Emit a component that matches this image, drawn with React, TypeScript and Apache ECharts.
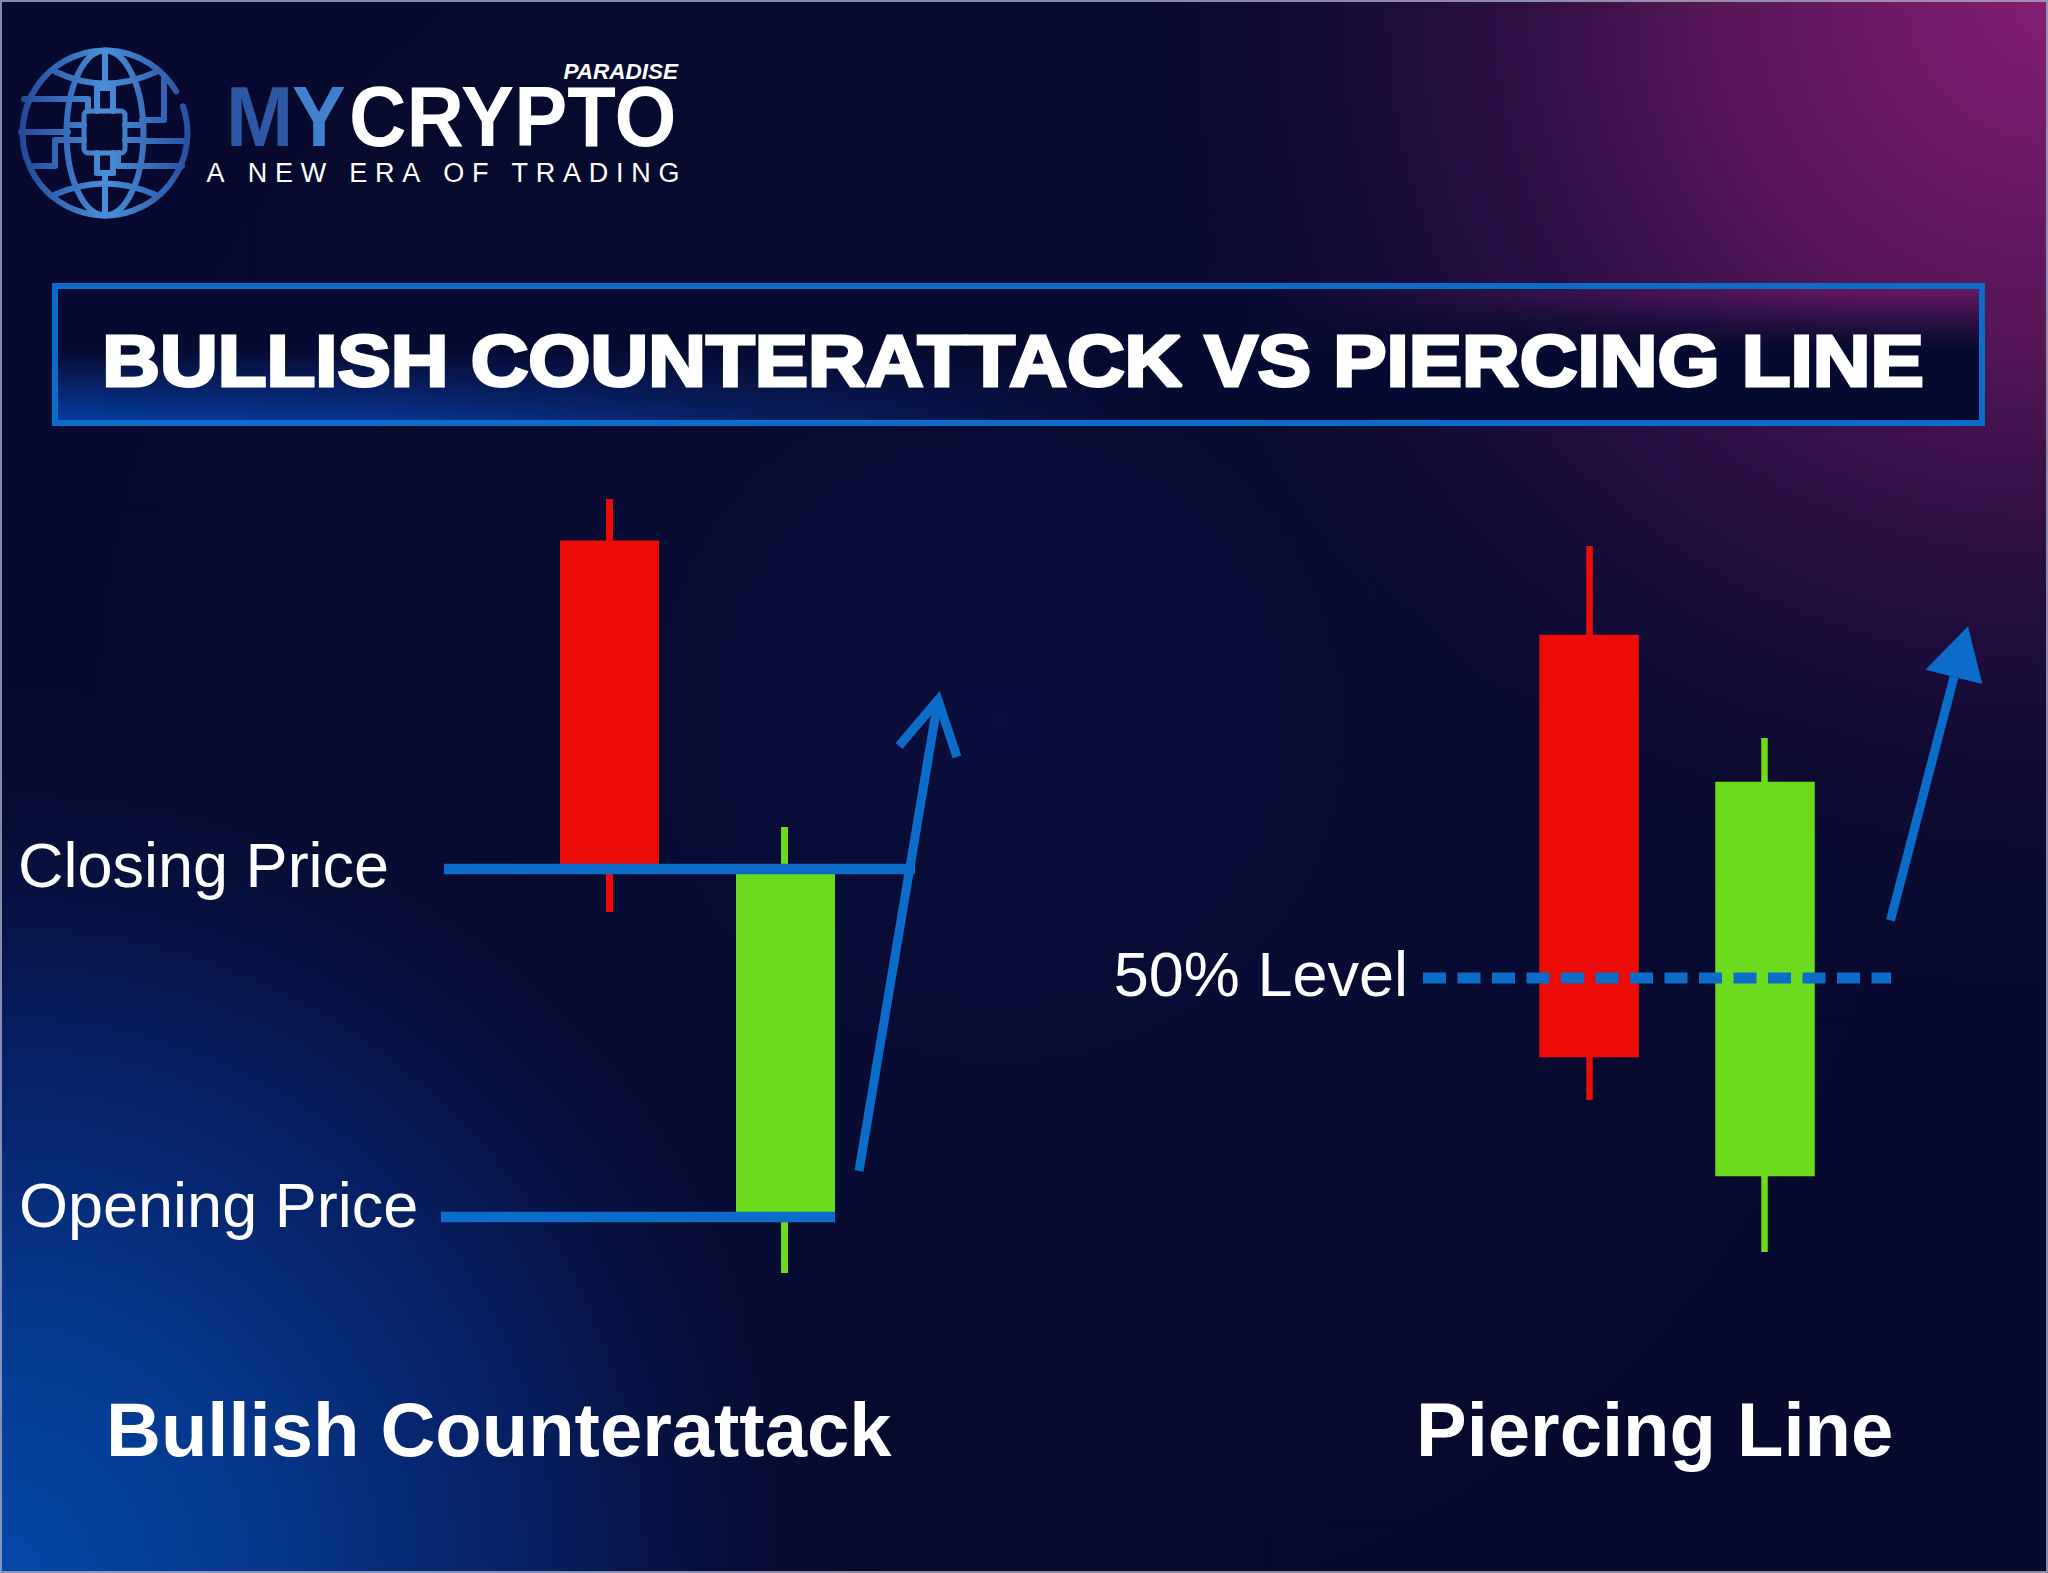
import React, { useEffect, useRef } from "react";
import * as echarts from "echarts";

const W = 2048;
const H = 1573;

// ---------- data ----------
// candle values: [open, close, lowest, highest]
const counterattackDays = ["Bearish day", "Bullish day"];
const counterattackCandles = [
  [85.6, 53.1, 48.8, 90.1],
  [18.3, 53.1, 12.7, 57.3],
];
const piercingDays = ["Bearish day", "Bullish day"];
const piercingCandles = [
  [76.2, 34.6, 30.0, 85.4],
  [22.7, 61.5, 14.8, 66.2],
];
const fiftyPercentLevel = 42.2;
const priceRange = [0, 100];

// annotation extents on the overlay axis (x units, price)
const closingLineX = [444, 915];
const openingLineX = [441, 835];
const levelLineX = [1423, 1891];
const counterArrowShaft = [[859, 22.9], [938, 70.0]];
const counterArrowWings = [[899, 65.4], [938, 70.0], [957, 64.3]];
const piercingArrowShaft = [[1890.5, 47.97], [1954, 72.3]];
const piercingArrowHead = [[1968, 77.38], [1925.5, 73.03], [1982.3, 71.6]];

// texts
const titleText = "BULLISH COUNTERATTACK VS PIERCING LINE";
const tagline = "A NEW ERA OF TRADING";

const BLUE = "#0b6cc9";
const RED = "#ec0b06";
const GREEN = "#6cdb1e";
const NAVY = "#070a30";
const FONT = '"Liberation Sans", Arial, sans-serif';

function globeGrad() {
  return new echarts.graphic.LinearGradient(
    19, 0, 191, 0,
    [
      { offset: 0, color: "#24479a" },
      { offset: 0.5, color: "#4a8ed8" },
      { offset: 1, color: "#284f9f" },
    ],
    true
  );
}

function globeElements(): any[] {
  const lw = 6;
  const s = () => ({ stroke: globeGrad(), lineWidth: lw, fill: "none", lineCap: "round", lineJoin: "round" });
  const els: any[] = [];
  els.push({ type: "arc", shape: { cx: 105, cy: 133, r: 82.5, startAngle: -0.33, endAngle: Math.PI * 2 - 0.53, clockwise: true }, style: s() });
  els.push({ type: "ellipse", shape: { cx: 105, cy: 133, rx: 38.5, ry: 82.5 }, style: s() });
  els.push({ type: "line", shape: { x1: 105, y1: 51, x2: 105, y2: 88 }, style: s() });
  els.push({ type: "line", shape: { x1: 105, y1: 173, x2: 105, y2: 215 }, style: s() });
  els.push({ type: "bezierCurve", shape: { x1: 56, y1: 72, x2: 156, y2: 72, cpx1: 105, cpy1: 95 }, style: s() });
  els.push({ type: "bezierCurve", shape: { x1: 54, y1: 195, x2: 156, y2: 195, cpx1: 105, cpy1: 172 }, style: s() });
  els.push({ type: "rect", shape: { x: 84, y: 111, width: 41, height: 42, r: 4 }, style: { stroke: globeGrad(), lineWidth: 5, fill: "#07092d" } });
  const pins = [
    [97, 88, 97, 111], [113, 88, 113, 111], [97, 153, 97, 173], [113, 153, 113, 173],
    [68, 125, 84, 125], [68, 140, 84, 140], [125, 125, 142, 125], [125, 140, 142, 140],
    [97, 88, 113, 88], [97, 173, 113, 173],
  ];
  pins.forEach((p) => els.push({ type: "line", shape: { x1: p[0], y1: p[1], x2: p[2], y2: p[3] }, style: s() }));
  const circuits = [
    [[24, 99], [88, 99], [88, 111]],
    [[21, 132], [68, 132]],
    [[34, 166], [55, 166], [55, 140], [68, 140]],
    [[164, 79], [164, 120], [142, 120]],
    [[142, 141], [187, 141]],
    [[118, 153], [118, 166], [182, 166]],
  ];
  circuits.forEach((pts) => els.push({ type: "polyline", shape: { points: pts }, style: s() }));
  return els.map((e) => ({ ...e, silent: true, z: 5 }));
}

function taglineElements(): any[] {
  const fs = 27;
  const canvas = document.createElement("canvas");
  const ctx = canvas.getContext("2d")!;
  ctx.font = `${fs}px ${FONT}`;
  const chars = tagline.split("");
  const widths = chars.map((c) => ctx.measureText(c).width);
  const natural = widths.reduce((a, b) => a + b, 0);
  const target = 473;
  const gap = (target - natural) / (chars.length - 1);
  let x = 206.6;
  const out: any[] = [];
  chars.forEach((ch, i) => {
    if (ch !== " ") {
      out.push({
        type: "text", z: 6, silent: true,
        style: { text: ch, x, y: 173, fontSize: fs, fontFamily: FONT, fill: "#ffffff", align: "left", verticalAlign: "middle" },
      });
    }
    x += widths[i] + gap;
  });
  return out;
}

function txt(text: string, x: number, y: number, fontSize: number, opts: any = {}) {
  const { align = "left", fontWeight = "normal", fontStyle = "normal", scaleX = 1, fill = "#ffffff", stroke, lineWidth } = opts;
  const style: any = { text, x: 0, y: 0, fontSize, fontFamily: FONT, fontWeight, fontStyle, fill, align, verticalAlign: "middle" };
  if (stroke) { style.stroke = stroke; style.lineWidth = lineWidth; }
  return { type: "text", x, y, scaleX, z: 10, silent: true, style };
}

function lin(x1: number, y1: number, x2: number, y2: number, stops: [number, string][]) {
  return new echarts.graphic.LinearGradient(x1, y1, x2, y2, stops.map(([offset, color]) => ({ offset, color })), true);
}

function buildOption(): any {
  const box = { x: 58, y: 289, w: 1921, h: 131 };
  const background: any[] = [
    {
      type: "rect", z: -20, silent: true, shape: { x: 0, y: 0, width: W, height: H },
      style: {
        fill: new echarts.graphic.RadialGradient(1000, 720, 1000, [
          { offset: 0, color: "rgba(14,16,72,0.55)" },
          { offset: 1, color: "rgba(7,10,46,0)" },
        ], true),
      },
    },
    {
      type: "rect", z: -19, silent: true, shape: { x: 0, y: 0, width: W, height: H },
      style: {
        fill: new echarts.graphic.RadialGradient(W, 0, 1000, [
          { offset: 0, color: "rgba(132,30,114,1)" },
          { offset: 0.35, color: "rgba(88,22,88,0.95)" },
          { offset: 0.65, color: "rgba(45,14,70,0.6)" },
          { offset: 1, color: "rgba(7,10,46,0)" },
        ], true),
      },
    },
    {
      type: "rect", z: -18, silent: true, shape: { x: 0, y: 0, width: W, height: H },
      style: {
        fill: new echarts.graphic.RadialGradient(0, H, 900, [
          { offset: 0, color: "rgba(4,72,168,1)" },
          { offset: 0.3, color: "rgba(5,58,145,0.95)" },
          { offset: 0.6, color: "rgba(6,40,120,0.7)" },
          { offset: 1, color: "rgba(7,10,46,0)" },
        ], true),
      },
    },
    // title box interior
    { type: "rect", z: -16, silent: true, shape: { x: box.x, y: box.y, width: box.w, height: box.h }, style: { fill: NAVY } },
    // blue glow along bottom-left of the box
    {
      type: "rect", z: -15, silent: true, shape: { x: box.x, y: box.y, width: 1100, height: box.h },
      style: { fill: lin(0, box.y, 0, box.y + box.h, [[0, "rgba(5,55,150,0)"], [0.45, "rgba(5,55,150,0)"], [1, "rgba(5,62,165,0.95)"]]) },
    },
    {
      type: "rect", z: -14, silent: true, shape: { x: box.x, y: box.y, width: 1100, height: box.h },
      style: { fill: lin(box.x, 0, box.x + 1100, 0, [[0, "rgba(7,10,48,0)"], [0.3, "rgba(7,10,48,0.15)"], [1, "rgba(7,10,48,1)"]]) },
    },
    // purple glow along top-right of the box
    {
      type: "rect", z: -13, silent: true, shape: { x: 1250, y: box.y, width: box.x + box.w - 1250, height: box.h },
      style: { fill: lin(0, box.y, 0, box.y + box.h, [[0, "rgba(112,26,104,0.95)"], [0.45, "rgba(80,20,90,0)"], [1, "rgba(80,20,90,0)"]]) },
    },
    {
      type: "rect", z: -12, silent: true, shape: { x: 1250, y: box.y, width: box.x + box.w - 1250, height: box.h },
      style: { fill: lin(1250, 0, box.x + box.w, 0, [[0, "rgba(7,10,48,1)"], [0.8, "rgba(7,10,48,0.05)"], [1, "rgba(7,10,48,0)"]]) },
    },
    // title box border
    { type: "rect", z: 4, silent: true, shape: { x: 55, y: 286, width: 1927, height: 137 }, style: { fill: "none", stroke: BLUE, lineWidth: 6 } },
    // frame
    { type: "rect", z: 20, silent: true, shape: { x: 1, y: 1, width: W - 2, height: H - 2 }, style: { fill: "none", stroke: "rgba(170,170,195,0.8)", lineWidth: 2 } },
  ];

  const texts: any[] = [
    txt(titleText, 1013, 360.5, 72, { align: "center", fontWeight: "bold", scaleX: 1.11, stroke: "#ffffff", lineWidth: 3 }),
    txt("Closing Price", 18, 865, 63),
    txt("Opening Price", 19, 1205, 63),
    txt("50% Level", 1408, 974, 63, { align: "right" }),
    txt("Bullish Counterattack", 106, 1429.5, 76, { fontWeight: "bold" }),
    txt("Piercing Line", 1416, 1429.5, 76, { fontWeight: "bold" }),
    txt("M", 226, 116.5, 85, { fontWeight: "bold", scaleX: 0.95, fill: "#2d58a5" }),
    txt("Y", 292, 116.5, 85, { fontWeight: "bold", scaleX: 0.95, fill: "#4180cd" }),
    txt("CRYPTO", 349, 116.5, 85, { fontWeight: "bold", scaleX: 0.937 }),
    txt("PARADISE", 678, 71.7, 22.5, { align: "right", fontWeight: "bold", fontStyle: "italic" }),
  ];

  return {
    animation: false,
    backgroundColor: "#070a2e",
    grid: [
      { left: 521.75, top: 400, width: 351, height: 1000 },
      { left: 1501.7, top: 400, width: 350.8, height: 1000 },
      { left: 0, top: 400, width: W, height: 1000 },
    ],
    xAxis: [
      { type: "category", gridIndex: 0, data: counterattackDays, show: false },
      { type: "category", gridIndex: 1, data: piercingDays, show: false },
      { type: "value", gridIndex: 2, min: 0, max: W, show: false },
    ],
    yAxis: [0, 1, 2].map((i) => ({ type: "value", gridIndex: i, min: priceRange[0], max: priceRange[1], show: false })),
    graphic: { elements: [...background, ...globeElements(), ...taglineElements(), ...texts] },
    series: [
      {
        type: "candlestick", xAxisIndex: 0, yAxisIndex: 0, data: counterattackCandles, barWidth: 92.5, silent: true, z: 2,
        itemStyle: { color: GREEN, color0: RED, borderColor: GREEN, borderColor0: RED, borderWidth: 7 },
      },
      {
        type: "candlestick", xAxisIndex: 1, yAxisIndex: 1, data: piercingCandles, barWidth: 93.5, silent: true, z: 2,
        itemStyle: { color: GREEN, color0: RED, borderColor: GREEN, borderColor0: RED, borderWidth: 6.5 },
      },
      {
        type: "custom", xAxisIndex: 2, yAxisIndex: 2, data: [[0, 0]], silent: true, z: 5, clip: false,
        renderItem: (_params: any, api: any) => {
          const c = (pt: number[]) => api.coord(pt);
          const hline = (xs: number[], y: number, extra: any = {}) => {
            const a = c([xs[0], y]);
            const b = c([xs[1], y]);
            return { type: "line", shape: { x1: a[0], y1: a[1], x2: b[0], y2: b[1] }, style: { stroke: BLUE, lineWidth: 10.5, ...extra } };
          };
          const closeVal = counterattackCandles[0][1];
          const openVal = counterattackCandles[1][0];
          const s1 = c(counterArrowShaft[0]);
          const s2 = c(counterArrowShaft[1]);
          const p1 = c(piercingArrowShaft[0]);
          const p2 = c(piercingArrowShaft[1]);
          return {
            type: "group",
            children: [
              hline(closingLineX, closeVal),
              hline(openingLineX, openVal),
              hline(levelLineX, fiftyPercentLevel, { lineWidth: 11, lineDash: [23, 11.5] }),
              { type: "line", shape: { x1: s1[0], y1: s1[1], x2: s2[0], y2: s2[1] }, style: { stroke: BLUE, lineWidth: 9 } },
              { type: "polyline", shape: { points: counterArrowWings.map(c) }, style: { stroke: BLUE, lineWidth: 9, fill: "none", lineJoin: "miter" } },
              { type: "line", shape: { x1: p1[0], y1: p1[1], x2: p2[0], y2: p2[1] }, style: { stroke: BLUE, lineWidth: 9 } },
              { type: "polygon", shape: { points: piercingArrowHead.map(c) }, style: { fill: BLUE } },
            ],
          };
        },
      },
    ],
  };
}

export default function App() {
  const ref = useRef<HTMLDivElement>(null);
  useEffect(() => {
    document.body.style.margin = "0";
    const chart = echarts.init(ref.current!, null, { renderer: "svg", width: W, height: H });
    chart.setOption(buildOption());
    return () => chart.dispose();
  }, []);
  return <div ref={ref} style={{ width: W, height: H }} />;
}
